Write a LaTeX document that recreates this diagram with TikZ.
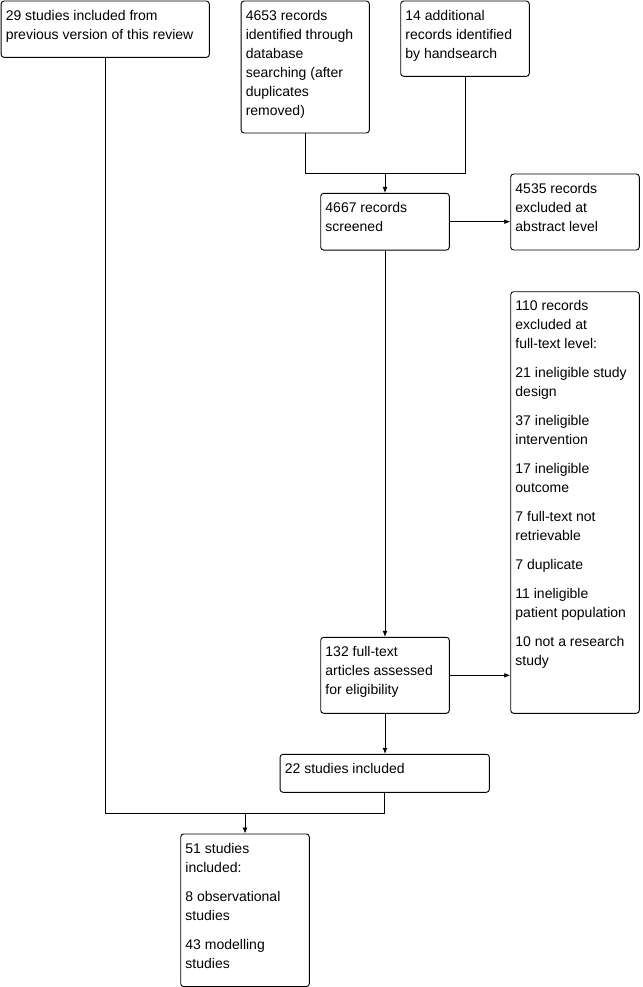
\documentclass[tikz,border=0pt]{standalone}
\usepackage{fontspec}
\setmainfont{Liberation Sans}
\usetikzlibrary{arrows.meta}
\newcommand\mystrut{\rule{0pt}{11pt}}
\tikzset{
  box/.style={draw, line width=0.9pt, rounded corners=3pt, inner sep=0pt},
  txt/.style={font=\fontsize{14}{19}\selectfont, align=left, inner sep=0pt, anchor=north west},
  conn/.style={line width=0.9pt},
  arr/.style={line width=0.9pt, -{Latex[length=6pt,width=5pt]}}
}
\begin{document}
\begin{tikzpicture}[x=1pt,y=-1pt]
\useasboundingbox[fill=white] (0,0) rectangle (642,987);
% boxes
\node[box, minimum width=208.3pt, minimum height=56.3pt] (A) at (105.2,29.2) {};
\node[box, minimum width=128.3pt, minimum height=132pt] (B) at (305.2,67) {};
\node[box, minimum width=128.6pt, minimum height=75.3pt] (C) at (465,38.7) {};
\node[box, minimum width=128.6pt, minimum height=56.7pt] (D) at (385,221.7) {};
\node[box, minimum width=128.6pt, minimum height=76pt] (E) at (575,212) {};
\node[box, minimum width=128.6pt, minimum height=421.6pt] (F) at (575,502.5) {};
\node[box, minimum width=128.6pt, minimum height=76pt] (G) at (385,675.3) {};
\node[box, minimum width=209.3pt, minimum height=38pt] (H) at (384.7,773.3) {};
\node[box, minimum width=128.6pt, minimum height=152.7pt] (I) at (245,910.3) {};
% texts
\node[txt] (tA) at ([shift={(5,8.5)}]A.north west) {\mystrut 29 studies included from\\previous version of this review};
\node[txt] (tB) at ([shift={(5,8.5)}]B.north west) {\mystrut 4653 records\\identified through\\database\\searching (after\\duplicates\\removed)};
\node[txt] (tC) at ([shift={(5,8.5)}]C.north west) {\mystrut 14 additional\\records identified\\by handsearch};
\node[txt] (tD) at ([shift={(5,8.5)}]D.north west) {\mystrut 4667 records\\screened};
\node[txt] (tE) at ([shift={(5,8.5)}]E.north west) {\mystrut 4535 records\\excluded at\\abstract level};
\node[txt] (tF) at ([shift={(5,8.5)}]F.north west) {\mystrut 110 records\\excluded at\\full-text level:\\[9.9pt]21 ineligible study\\design\\[9.9pt]37 ineligible\\intervention\\[9.9pt]17 ineligible\\outcome\\[9.9pt]7 full-text not\\retrievable\\[9.9pt]7 duplicate\\[9.9pt]11 ineligible\\patient population\\[9.9pt]10 not a research\\study};
\node[txt] (tG) at ([shift={(5,8.5)}]G.north west) {\mystrut 132 full-text\\articles assessed\\for eligibility};
\node[txt] (tH) at ([shift={(5,8.5)}]H.north west) {\mystrut 22 studies included};
\node[txt] (tI) at ([shift={(5,8.5)}]I.north west) {\mystrut 51 studies\\included:\\[9.9pt]8 observational\\studies\\[9.9pt]43 modelling\\studies};
% connectors
\coordinate (m1) at (385,173.3);
\coordinate (m2) at (245,813.3);
\draw[conn] (B.south) |- (m1) -| (C.south);
\draw[arr] (m1) -- (D.north);
\draw[arr] (D.east) -- (E.west |- D.east);
\draw[arr] (D.south) -- (G.north);
\draw[arr] (G.east) -- (F.west |- G.east);
\draw[arr] (G.south) -- (G.south |- H.north);
\draw[conn] (A.south) |- (m2) -| (H.south);
\draw[arr] (m2) -- (I.north);
\end{tikzpicture}
\end{document}
